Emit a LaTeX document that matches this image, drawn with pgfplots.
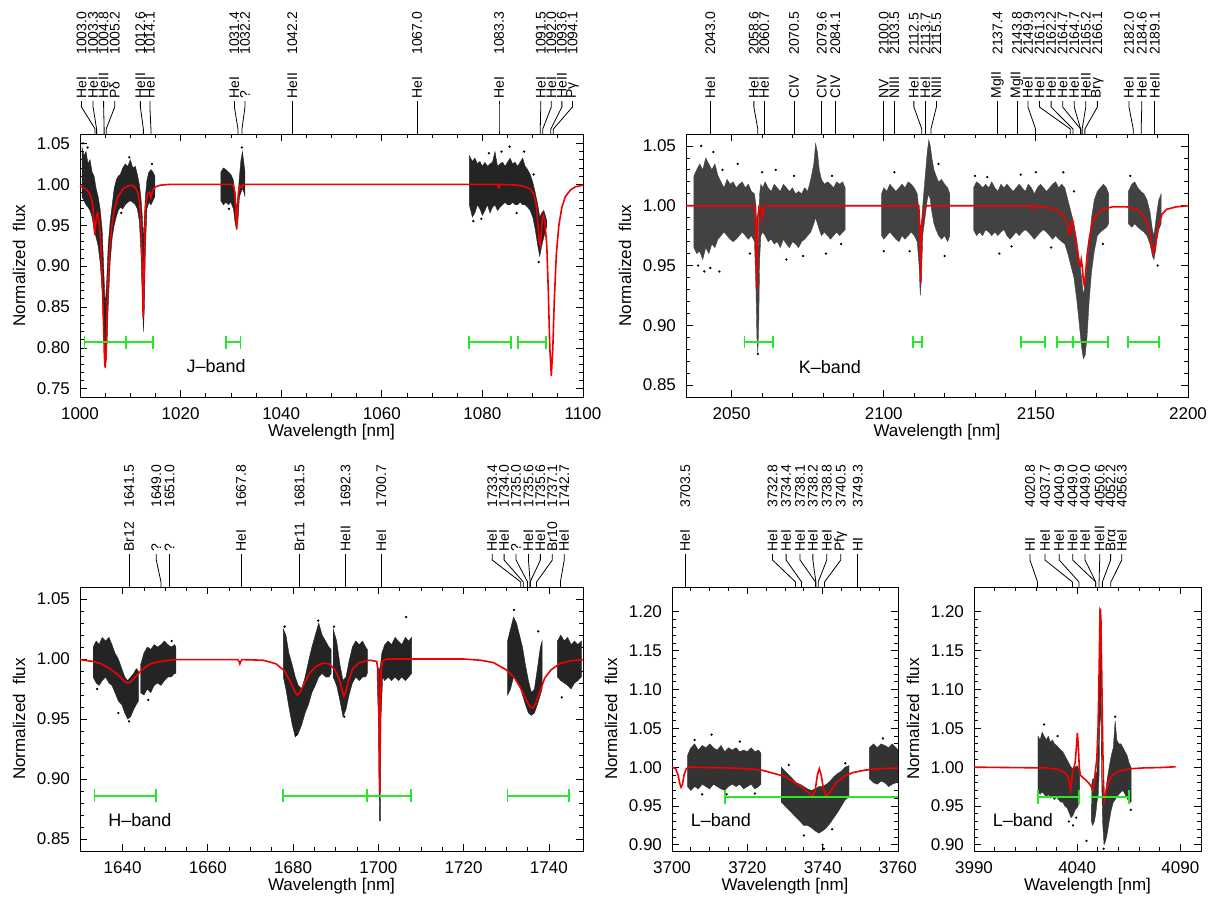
\documentclass[border=0pt]{standalone}
\usepackage{fontspec}
\setmainfont{Liberation Sans}
\usepackage{pgfplots}
\pgfplotsset{compat=1.18}
\usetikzlibrary{calc}

\definecolor{idlred}{RGB}{240,0,0}
\definecolor{idlgreen}{RGB}{40,230,40}
\newlength{\px}\setlength{\px}{0.5pt}
\newcommand{\tickfont}{\fontsize{8.5}{10}\selectfont}
\newcommand{\axfont}{\fontsize{8.5}{10}\selectfont}
\newcommand{\labfont}{\fontsize{7}{8}\selectfont}
\newcommand{\bandfont}{\fontsize{9}{10}\selectfont}

% line identification: wavelength, label position, ion, wavelength text
\newcommand{\lineid}[4]{%
  \draw[line width=0.4pt] (axis cs:#1,\ytop) -- ++(0pt,5\px) -- ($(axis cs:#2,\ytop)+(0pt,27\px)$) -- ++(0pt,6\px);
  \node[rotate=90,anchor=west,inner sep=0pt,font=\labfont] at ($(axis cs:#2,\ytop)+(0pt,35\px)$) {#3};
  \node[rotate=90,anchor=west,inner sep=0pt,font=\labfont] at ($(axis cs:#2,\ytop)+(0pt,79\px)$) {#4};
}
\newcommand{\panellabels}{%
  \node[rotate=90,font=\axfont] at ($(rel axis cs:0,0.5)+(-61\px,0pt)$) {Normalized\ \ flux};
  \node[font=\axfont] at ($(rel axis cs:0.5,0)+(0pt,-35\px)$) {Wavelength [nm]};
}

\pgfplotsset{
  panel/.style={
    scale only axis, clip=false, anchor=south west,
    axis line style={line width=0.45pt},
    tick align=inside,
    major tick length=3.6pt, minor tick length=2pt,
    every tick/.style={black, line width=0.4pt},
    ticklabel style={font=\tickfont},
    /pgf/number format/assume math mode=true,
    yticklabel style={/pgf/number format/fixed, /pgf/number format/fixed zerofill, /pgf/number format/precision=2, xshift=-1.5pt},
    xticklabel style={/pgf/number format/fixed, /pgf/number format/precision=0, /pgf/number format/1000 sep={}, yshift=-2pt},
  },
  cloud/.style={fill=black!86, draw=black!86, line width=0.2pt},
  odd/.style={only marks, mark=*, mark size=0.35pt, black},
  model/.style={idlred, line width=0.8pt},
  fitwin/.style={idlgreen, line width=0.9pt, mark=|, mark size=3.2pt, mark options={solid}},
}

\begin{document}
\begin{tikzpicture}
\path[use as bounding box] (0,0) rectangle (1219\px,-902\px);

% ---------------- J band ----------------
\def\ytop{1.0615}
\begin{axis}[panel, at={(80\px,-397\px)}, width=503\px, height=263\px,
  xmin=1000, xmax=1100, ymin=0.74, ymax=1.0615,
  xtick={1000,1020,1040,1060,1080,1100}, minor x tick num=3,
  ytick={0.75,0.80,0.85,0.90,0.95,1.00,1.05}, minor y tick num=4]
\addplot[cloud] coordinates {(1000.4,1.045)(1000.8,1.035)(1001.2,1.040)(1001.6,1.025)(1002.0,1.030)(1002.4,1.015)(1002.8,1.010)(1003.2,0.995)(1003.6,0.985)(1004.0,0.970)(1004.4,0.945)(1004.7,0.900)(1005.0,0.850)(1005.3,0.880)(1005.6,0.925)(1006.0,0.955)(1006.4,0.975)(1006.8,0.995)(1007.2,1.005)(1007.6,1.010)(1008.0,1.012)(1008.5,1.020)(1009.0,1.025)(1009.5,1.022)(1010.0,1.030)(1010.5,1.020)(1011.0,1.022)(1011.4,1.012)(1011.8,1.000)(1012.1,0.985)(1012.4,0.960)(1012.6,0.930)(1012.8,0.960)(1013.0,0.985)(1013.3,1.005)(1013.7,1.015)(1014.1,1.018)(1014.5,1.015)(1014.9,1.010)
(1014.9,0.985)(1014.5,0.980)(1014.1,0.975)(1013.7,0.978)(1013.3,0.970)(1013.0,0.920)(1012.8,0.850)(1012.6,0.820)(1012.4,0.860)(1012.1,0.920)(1011.8,0.955)(1011.4,0.970)(1011.0,0.975)(1010.5,0.978)(1010.0,0.980)(1009.5,0.978)(1009.0,0.975)(1008.5,0.970)(1008.0,0.972)(1007.6,0.968)(1007.2,0.960)(1006.8,0.950)(1006.4,0.935)(1006.0,0.905)(1005.6,0.850)(1005.3,0.790)(1005.0,0.775)(1004.7,0.820)(1004.4,0.870)(1004.0,0.905)(1003.6,0.925)(1003.2,0.935)(1002.8,0.945)(1002.4,0.960)(1002.0,0.968)(1001.6,0.972)(1001.2,0.975)(1000.8,0.980)(1000.4,0.985)} -- cycle;
\addplot[cloud] coordinates {(1028.0,1.015)(1028.5,1.020)(1029.0,1.018)(1029.5,1.015)(1030.0,1.012)(1030.5,1.005)(1030.8,0.990)(1031.1,0.970)(1031.4,0.985)(1031.7,1.010)(1032.0,1.030)(1032.3,1.040)(1032.6,1.025)(1032.8,1.015)
(1032.8,0.985)(1032.6,0.990)(1032.3,0.995)(1032.0,0.990)(1031.7,0.985)(1031.4,0.955)(1031.1,0.945)(1030.8,0.955)(1030.5,0.970)(1030.0,0.978)(1029.5,0.975)(1029.0,0.978)(1028.5,0.975)(1028.0,0.980)} -- cycle;
\addplot[cloud] coordinates {(1077.4,1.035)(1078.0,1.028)(1078.5,1.032)(1079.0,1.025)(1079.5,1.028)(1080.0,1.022)(1080.5,1.027)(1081.0,1.022)(1081.5,1.025)(1082.0,1.027)(1082.5,1.040)(1083.0,1.022)(1083.5,1.025)(1084.0,1.027)(1084.5,1.022)(1085.0,1.027)(1085.5,1.032)(1086.0,1.025)(1086.5,1.027)(1087.0,1.022)(1087.5,1.027)(1088.0,1.032)(1088.5,1.022)(1089.0,1.018)(1089.5,1.012)(1090.0,1.003)(1090.5,0.990)(1091.0,0.975)(1091.4,0.960)(1091.8,0.965)(1092.2,0.968)(1092.6,0.960)(1092.8,0.955)
(1092.8,0.948)(1092.6,0.945)(1092.2,0.935)(1091.8,0.925)(1091.4,0.912)(1091.0,0.925)(1090.5,0.945)(1090.0,0.960)(1089.5,0.968)(1089.0,0.972)(1088.5,0.975)(1088.0,0.975)(1087.5,0.978)(1087.0,0.975)(1086.5,0.975)(1086.0,0.978)(1085.5,0.975)(1085.0,0.975)(1084.5,0.978)(1084.0,0.975)(1083.5,0.972)(1083.0,0.968)(1082.5,0.975)(1082.0,0.972)(1081.5,0.965)(1081.0,0.975)(1080.5,0.968)(1080.0,0.962)(1079.5,0.970)(1079.0,0.975)(1078.5,0.965)(1078.0,0.960)(1077.4,0.975)} -- cycle;
\addplot[odd] coordinates {(1000.6,1.050)(1001.5,1.045)(1009.8,1.033)(1008.2,0.965)(1014.3,1.025)(1029.6,0.970)(1032.2,1.045)(1078.2,0.955)(1079.8,0.958)(1081.3,1.038)(1083.8,1.040)(1085.4,1.046)(1088.3,1.040)(1086.8,0.965)(1091.2,0.905)(1090.2,1.012)};
\addplot[model] coordinates {(1000,0.998)(1001,0.995)(1001.8,0.990)(1002.3,0.982)(1002.6,0.970)(1002.8,0.950)(1002.95,0.938)(1003.1,0.950)(1003.3,0.962)(1003.5,0.965)(1003.8,0.955)(1004.1,0.930)(1004.4,0.890)(1004.65,0.835)(1004.85,0.790)(1005.0,0.776)(1005.15,0.790)(1005.35,0.835)(1005.6,0.885)(1005.9,0.920)(1006.3,0.948)(1006.8,0.968)(1007.5,0.984)(1008.5,0.994)(1009.5,0.998)(1010.3,0.999)(1011.0,0.996)(1011.5,0.990)(1011.9,0.975)(1012.2,0.945)(1012.4,0.895)(1012.55,0.838)(1012.7,0.880)(1012.9,0.945)(1013.1,0.975)(1013.4,0.988)(1013.8,0.990)(1014.1,0.984)(1014.4,0.992)(1015,0.997)(1016,0.999)(1018,1.000)(1030.4,1.000)(1030.8,0.990)(1031.0,0.965)(1031.15,0.945)(1031.3,0.965)(1031.5,0.990)(1031.8,0.998)(1032.2,0.996)(1032.5,1.000)(1083.0,1.000)(1083.3,0.996)(1083.6,1.000)(1087,0.999)(1088.5,0.997)(1089.5,0.994)(1090.2,0.988)(1090.7,0.975)(1091.0,0.955)(1091.3,0.930)(1091.5,0.926)(1091.7,0.940)(1091.9,0.958)(1092.1,0.962)(1092.4,0.955)(1092.8,0.925)(1093.1,0.870)(1093.4,0.800)(1093.7,0.766)(1094.0,0.800)(1094.3,0.860)(1094.7,0.915)(1095.2,0.950)(1095.8,0.972)(1096.5,0.985)(1097.5,0.993)(1098.5,0.997)(1100,0.999)};
\addplot[fitwin] coordinates {(1000.9,0.807)(1009.1,0.807)(1014.5,0.807)};
\addplot[fitwin] coordinates {(1029.1,0.807)(1031.9,0.807)};
\addplot[fitwin] coordinates {(1077.4,0.807)(1085.7,0.807)};
\addplot[fitwin] coordinates {(1087.0,0.807)(1092.6,0.807)};
\node[anchor=west,font=\bandfont] at (axis cs:1019.8,0.778) {J–band};
\panellabels
\lineid{1003.0}{1000.3}{HeI}{1003.0}
\lineid{1003.3}{1002.6}{HeI}{1003.3}
\lineid{1004.8}{1004.7}{HeII}{1004.8}
\lineid{1005.2}{1006.9}{Pδ}{1005.2}
\lineid{1012.6}{1012.0}{HeII}{1012.6}
\lineid{1014.1}{1013.9}{HeI}{1014.1}
\lineid{1031.4}{1030.7}{HeI}{1031.4}
\lineid{1032.2}{1032.8}{?}{1032.2}
\lineid{1042.2}{1042.2}{HeII}{1042.2}
\lineid{1067.0}{1067.0}{HeI}{1067.0}
\lineid{1083.3}{1083.3}{HeI}{1083.3}
\lineid{1091.5}{1091.6}{HeI}{1091.5}
\lineid{1092.0}{1093.7}{HeI}{1092.0}
\lineid{1093.6}{1095.8}{HeII}{1093.6}
\lineid{1094.1}{1097.9}{Pγ}{1094.1}
\end{axis}

% ---------------- K band ----------------
\begin{axis}[panel, at={(686\px,-397\px)}, width=502\px, height=263\px,
  xmin=2035, xmax=2200, ymin=0.84, ymax=1.06,
  xtick={2050,2100,2150,2200}, minor x tick num=4,
  ytick={0.85,0.90,0.95,1.00,1.05}, minor y tick num=4,
  cloud/.style={fill=black!74, draw=black!74, line width=0.2pt}]
\def\ytop{1.06}
\addplot[cloud] coordinates {(2037.6,1.025)(2038.5,1.030)(2039.5,1.035)(2040.5,1.030)(2041.5,1.040)(2042.5,1.035)(2043.5,1.030)(2044.5,1.035)(2045.5,1.025)(2046.5,1.020)(2047.5,1.015)(2048.5,1.022)(2049.5,1.018)(2050.5,1.020)(2051.5,1.015)(2052.5,1.018)(2053.5,1.020)(2054.5,1.015)(2055.5,1.018)(2056.5,1.012)(2057.5,1.010)(2058.0,1.000)(2058.3,0.975)(2058.6,0.950)(2058.9,0.985)(2059.2,1.010)(2059.6,1.018)(2060.2,1.015)(2061.0,1.020)(2062.0,1.015)(2063.0,1.012)(2064.0,1.018)(2065.0,1.015)(2066.0,1.012)(2067.0,1.018)(2068.0,1.015)(2069.0,1.012)(2070.0,1.015)(2071.0,1.010)(2072.0,1.012)(2073.0,1.010)(2074.0,1.015)(2075.0,1.012)(2076.0,1.022)(2077.0,1.035)(2077.6,1.052)(2078.2,1.045)(2078.8,1.030)(2079.5,1.022)(2080.5,1.018)(2081.5,1.020)(2082.5,1.018)(2083.5,1.015)(2084.5,1.020)(2085.5,1.018)(2086.5,1.020)(2087.3,1.015)
(2087.3,0.980)(2086.5,0.978)(2085.5,0.975)(2084.5,0.978)(2083.5,0.975)(2082.5,0.972)(2081.5,0.975)(2080.5,0.978)(2079.5,0.975)(2078.8,0.980)(2078.2,0.985)(2077.6,0.990)(2077.0,0.985)(2076.0,0.978)(2075.0,0.975)(2074.0,0.972)(2073.0,0.970)(2072.0,0.965)(2071.0,0.968)(2070.0,0.970)(2069.0,0.965)(2068.0,0.968)(2067.0,0.972)(2066.0,0.965)(2065.0,0.970)(2064.0,0.968)(2063.0,0.972)(2062.0,0.970)(2061.0,0.975)(2060.2,0.978)(2059.6,0.975)(2059.2,0.955)(2058.9,0.900)(2058.6,0.877)(2058.3,0.890)(2058.0,0.930)(2057.5,0.970)(2056.5,0.975)(2055.5,0.972)(2054.5,0.975)(2053.5,0.978)(2052.5,0.975)(2051.5,0.972)(2050.5,0.970)(2049.5,0.972)(2048.5,0.975)(2047.5,0.978)(2046.5,0.975)(2045.5,0.972)(2044.5,0.965)(2043.5,0.968)(2042.5,0.960)(2041.5,0.965)(2040.5,0.955)(2039.5,0.962)(2038.5,0.960)(2037.6,0.965)} -- cycle;
\addplot[cloud] coordinates {(2099.3,1.010)(2100.0,1.015)(2101.0,1.012)(2102.0,1.018)(2103.0,1.015)(2104.0,1.012)(2105.0,1.015)(2106.0,1.018)(2107.0,1.015)(2108.0,1.020)(2109.0,1.018)(2110.0,1.015)(2111.0,1.010)(2111.6,0.995)(2112.0,0.960)(2112.4,0.985)(2112.8,1.000)(2113.3,1.015)(2113.8,1.030)(2114.3,1.045)(2114.8,1.055)(2115.3,1.050)(2115.8,1.040)(2116.5,1.030)(2117.2,1.025)(2118.0,1.020)(2119.0,1.022)(2120.0,1.018)(2121.0,1.015)(2121.7,1.010)
(2121.7,0.975)(2121.0,0.970)(2120.0,0.975)(2119.0,0.972)(2118.0,0.975)(2117.2,0.980)(2116.5,0.985)(2115.8,0.995)(2115.3,1.005)(2114.8,1.010)(2114.3,1.005)(2113.8,0.995)(2113.3,0.985)(2112.8,0.975)(2112.4,0.940)(2112.0,0.925)(2111.6,0.950)(2111.0,0.970)(2110.0,0.975)(2109.0,0.978)(2108.0,0.975)(2107.0,0.972)(2106.0,0.975)(2105.0,0.970)(2104.0,0.972)(2103.0,0.975)(2102.0,0.978)(2101.0,0.975)(2100.0,0.972)(2099.3,0.975)} -- cycle;
\addplot[cloud] coordinates {(2129.5,1.015)(2130.5,1.020)(2131.5,1.018)(2132.5,1.015)(2133.5,1.018)(2134.5,1.015)(2135.5,1.020)(2136.5,1.015)(2137.5,1.012)(2138.5,1.018)(2139.5,1.015)(2140.5,1.018)(2141.5,1.015)(2142.5,1.012)(2143.5,1.015)(2144.5,1.018)(2145.5,1.015)(2146.5,1.012)(2147.5,1.018)(2148.5,1.015)(2149.5,1.010)(2150.5,1.015)(2151.5,1.018)(2152.5,1.015)(2153.5,1.012)(2154.5,1.015)(2155.5,1.018)(2156.5,1.020)(2157.5,1.015)(2158.5,1.018)(2159.5,1.015)(2160.5,1.005)(2161.5,0.995)(2162.5,0.985)(2163.5,0.970)(2164.3,0.955)(2165.0,0.940)(2165.6,0.925)(2166.2,0.935)(2166.8,0.950)(2167.5,0.970)(2168.3,0.990)(2169.2,1.005)(2170.2,1.012)(2171.2,1.015)(2172.2,1.018)(2173.2,1.015)(2173.9,1.010)
(2173.9,0.985)(2173.2,0.982)(2172.2,0.980)(2171.2,0.978)(2170.2,0.975)(2169.2,0.962)(2168.3,0.945)(2167.5,0.920)(2166.8,0.890)(2166.2,0.875)(2165.6,0.872)(2165.0,0.882)(2164.3,0.900)(2163.5,0.920)(2162.5,0.940)(2161.5,0.950)(2160.5,0.960)(2159.5,0.968)(2158.5,0.970)(2157.5,0.972)(2156.5,0.975)(2155.5,0.972)(2154.5,0.975)(2153.5,0.978)(2152.5,0.980)(2151.5,0.978)(2150.5,0.975)(2149.5,0.972)(2148.5,0.975)(2147.5,0.978)(2146.5,0.980)(2145.5,0.978)(2144.5,0.975)(2143.5,0.978)(2142.5,0.975)(2141.5,0.972)(2140.5,0.975)(2139.5,0.980)(2138.5,0.978)(2137.5,0.975)(2136.5,0.978)(2135.5,0.975)(2134.5,0.978)(2133.5,0.980)(2132.5,0.975)(2131.5,0.978)(2130.5,0.975)(2129.5,0.980)} -- cycle;
\addplot[cloud] coordinates {(2180.4,1.012)(2181.5,1.018)(2182.5,1.020)(2183.5,1.015)(2184.5,1.012)(2185.5,1.010)(2186.5,1.005)(2187.5,0.995)(2188.3,0.980)(2188.8,0.975)(2189.3,0.985)(2189.8,0.995)(2190.4,1.005)(2191.2,1.010)
(2191.2,0.985)(2190.4,0.980)(2189.8,0.972)(2189.3,0.962)(2188.8,0.955)(2188.3,0.958)(2187.5,0.968)(2186.5,0.975)(2185.5,0.978)(2184.5,0.980)(2183.5,0.982)(2182.5,0.985)(2181.5,0.982)(2180.4,0.985)} -- cycle;
\addplot[odd] coordinates {(2040.0,1.050)(2041.0,0.945)(2044.0,1.045)(2043.0,0.948)(2046.0,0.945)(2052.0,1.035)(2056.0,0.960)(2068.0,0.955)(2081.0,0.960)(2083.0,1.025)(2100.0,0.962)(2118.0,1.035)(2120.0,0.958)(2130.0,1.025)(2138.0,0.960)(2150.0,1.028)(2155.0,0.965)(2159.0,1.028)(2172.0,0.968)(2181.0,1.025)(2190.0,0.950)(2058.6,0.876)(2064.5,1.030)(2073.5,0.958)(2103.5,1.028)(2145.0,1.026)(2162.5,1.012)(2039.0,0.950)(2047.0,1.030)(2060.0,1.028)(2070.5,1.025)(2086.0,0.968)(2108.5,0.962)(2134.0,1.024)(2142.0,0.966)};
\addplot[model] coordinates {(2035,1.000)(2057.5,1.000)(2057.9,0.990)(2058.1,0.960)(2058.25,0.930)(2058.4,0.960)(2058.6,0.990)(2059.0,0.999)(2059.8,0.996)(2060.1,0.987)(2060.4,0.996)(2061,1.000)(2111.5,1.000)(2111.8,0.985)(2112.0,0.960)(2112.15,0.936)(2112.3,0.960)(2112.5,0.985)(2112.8,0.990)(2113.1,0.992)(2113.4,0.998)(2114,1.000)(2148.8,1.000)(2149.3,0.997)(2149.8,1.000)(2152,0.999)(2155,0.998)(2157,0.996)(2159,0.992)(2160.3,0.985)(2160.8,0.977)(2161.2,0.976)(2161.6,0.985)(2162.0,0.988)(2162.4,0.982)(2163.0,0.972)(2163.6,0.962)(2164.2,0.952)(2164.6,0.950)(2164.9,0.955)(2165.2,0.950)(2165.6,0.937)(2165.9,0.934)(2166.3,0.942)(2166.8,0.958)(2167.5,0.972)(2168.5,0.985)(2170,0.993)(2172,0.997)(2175,0.999)(2180,0.999)(2183,0.997)(2185,0.993)(2186.5,0.986)(2187.5,0.977)(2188.2,0.966)(2188.7,0.960)(2189.1,0.963)(2189.6,0.973)(2190.4,0.985)(2191.5,0.993)(2193,0.997)(2196,0.999)(2200,1.000)};
\addplot[fitwin] coordinates {(2054.2,0.886)(2063.6,0.886)};
\addplot[fitwin] coordinates {(2109.6,0.886)(2112.6,0.886)};
\addplot[fitwin] coordinates {(2145.1,0.886)(2152.9,0.886)};
\addplot[fitwin] coordinates {(2157.0,0.886)(2162.2,0.886)(2173.6,0.886)};
\addplot[fitwin] coordinates {(2180.4,0.886)(2190.5,0.886)};
\node[anchor=west,font=\bandfont] at (axis cs:2069.8,0.865) {K–band};
\panellabels
\lineid{2043.0}{2043.0}{HeI}{2043.0}
\lineid{2058.6}{2057.3}{HeI}{2058.6}
\lineid{2060.7}{2060.7}{HeI}{2060.7}
\lineid{2070.5}{2070.5}{CIV}{2070.5}
\lineid{2079.6}{2079.6}{CIV}{2079.6}
\lineid{2084.1}{2084.1}{CIV}{2084.1}
\lineid{2100.0}{2100.0}{NV}{2100.0}
\lineid{2103.5}{2103.5}{NIII}{2103.5}
\lineid{2112.5}{2109.9}{HeI}{2112.5}
\lineid{2113.7}{2113.7}{HeI}{2113.7}
\lineid{2115.5}{2117.3}{NIII}{2115.5}
\lineid{2137.4}{2137.4}{MgII}{2137.4}
\lineid{2143.8}{2143.8}{MgII}{2143.8}
\lineid{2149.9}{2147.4}{HeI}{2149.9}
\lineid{2161.3}{2151.2}{HeI}{2161.3}
\lineid{2162.2}{2155.0}{HeI}{2162.2}
\lineid{2164.7}{2158.8}{HeI}{2164.7}
\lineid{2164.7}{2162.6}{HeI}{2164.7}
\lineid{2165.2}{2166.4}{HeII}{2165.2}
\lineid{2166.1}{2170.2}{Brγ}{2166.1}
\lineid{2182.0}{2180.6}{HeI}{2182.0}
\lineid{2184.6}{2184.8}{HeI}{2184.6}
\lineid{2189.1}{2189.1}{HeII}{2189.1}
\end{axis}

% ---------------- H band ----------------
\begin{axis}[panel, at={(80\px,-851\px)}, width=503\px, height=264\px,
  xmin=1630, xmax=1748, ymin=0.84, ymax=1.06,
  xtick={1640,1660,1680,1700,1720,1740}, minor x tick num=3,
  ytick={0.85,0.90,0.95,1.00,1.05}, minor y tick num=4]
\def\ytop{1.06}
\addplot[cloud] coordinates {(1633.1,1.010)(1633.8,1.015)(1634.5,1.012)(1635.2,1.018)(1636.0,1.015)(1636.8,1.018)(1637.5,1.012)(1638.2,1.005)(1639.0,1.000)(1639.8,0.992)(1640.5,0.985)(1641.2,0.982)(1641.9,0.985)(1642.6,0.988)(1643.2,0.992)(1643.7,0.990)
(1643.7,0.965)(1643.2,0.962)(1642.6,0.958)(1641.9,0.952)(1641.2,0.950)(1640.5,0.955)(1639.8,0.962)(1639.0,0.965)(1638.2,0.972)(1637.5,0.978)(1636.8,0.980)(1636.0,0.985)(1635.2,0.982)(1634.5,0.978)(1633.8,0.980)(1633.1,0.985)} -- cycle;
\addplot[cloud] coordinates {(1644.2,0.995)(1645.0,1.005)(1645.8,1.010)(1646.6,1.008)(1647.4,1.012)(1648.2,1.010)(1649.0,1.012)(1649.8,1.015)(1650.6,1.012)(1651.4,1.010)(1652.2,1.012)(1652.5,1.010)
(1652.5,0.988)(1652.2,0.988)(1651.4,0.985)(1650.6,0.985)(1649.8,0.982)(1649.0,0.978)(1648.2,0.980)(1647.4,0.978)(1646.6,0.972)(1645.8,0.975)(1645.0,0.970)(1644.2,0.972)} -- cycle;
\addplot[cloud] coordinates {(1677.7,1.025)(1678.3,1.020)(1679.0,1.005)(1679.8,0.995)(1680.5,0.985)(1681.2,0.978)(1682.0,0.975)(1682.8,0.985)(1683.6,0.998)(1684.4,1.010)(1685.2,1.020)(1686.0,1.030)(1686.8,1.020)(1687.6,1.015)(1688.4,1.010)(1688.9,1.008)
(1688.9,0.988)(1688.4,0.985)(1687.6,0.985)(1686.8,0.988)(1686.0,0.985)(1685.2,0.978)(1684.4,0.972)(1683.6,0.962)(1682.8,0.955)(1682.0,0.945)(1681.2,0.938)(1680.5,0.935)(1679.8,0.945)(1679.0,0.960)(1678.3,0.975)(1677.7,0.985)} -- cycle;
\addplot[cloud] coordinates {(1689.4,1.025)(1690.2,1.015)(1691.0,0.995)(1691.7,0.982)(1692.4,0.985)(1693.1,0.998)(1693.9,1.010)(1694.7,1.015)(1695.5,1.012)(1696.3,1.015)(1697.0,1.010)(1697.4,1.008)
(1697.4,0.988)(1697.0,0.985)(1696.3,0.985)(1695.5,0.982)(1694.7,0.985)(1693.9,0.980)(1693.1,0.970)(1692.4,0.958)(1691.7,0.952)(1691.0,0.965)(1690.2,0.978)(1689.4,0.985)} -- cycle;
\addplot[cloud] coordinates {(1699.7,0.995)(1700.2,0.990)(1700.5,0.995)(1700.8,1.005)(1701.5,1.012)(1702.3,1.015)(1703.1,1.012)(1703.9,1.018)(1704.7,1.015)(1705.5,1.012)(1706.3,1.018)(1707.1,1.015)(1707.8,1.018)
(1707.8,0.988)(1707.1,0.985)(1706.3,0.982)(1705.5,0.985)(1704.7,0.982)(1703.9,0.985)(1703.1,0.982)(1702.3,0.985)(1701.5,0.982)(1701.0,0.985)(1700.6,0.950)(1700.45,0.865)(1700.25,0.865)(1700.0,0.950)(1699.7,0.985)} -- cycle;
\addplot[cloud] coordinates {(1730.3,1.015)(1731.0,1.025)(1731.7,1.035)(1732.4,1.030)(1733.1,1.020)(1733.8,1.010)(1734.5,0.995)(1735.2,0.982)(1735.9,0.972)(1736.6,0.975)(1737.3,0.992)(1738.0,1.010)(1738.4,1.015)
(1738.4,0.975)(1738.0,0.970)(1737.3,0.962)(1736.6,0.955)(1735.9,0.953)(1735.2,0.955)(1734.5,0.962)(1733.8,0.970)(1733.1,0.978)(1732.4,0.982)(1731.7,0.985)(1731.0,0.975)(1730.3,0.970)} -- cycle;
\addplot[cloud] coordinates {(1742.0,1.015)(1742.8,1.020)(1743.6,1.015)(1744.4,1.018)(1745.2,1.012)(1746.0,1.015)(1746.8,1.012)(1747.6,1.015)
(1747.6,0.985)(1746.8,0.982)(1746.0,0.980)(1745.2,0.975)(1744.4,0.978)(1743.6,0.980)(1742.8,0.982)(1742.0,0.985)} -- cycle;
\addplot[odd] coordinates {(1651.5,1.015)(1639.0,0.955)(1641.5,0.948)(1680.8,0.937)(1685.9,1.032)(1689.6,1.027)(1706.5,1.035)(1731.8,1.041)(1737.5,1.023)(1743.0,0.968)(1692.0,0.952)(1634.0,0.975)(1646.0,0.966)(1678.0,1.027)};
\addplot[model] coordinates {(1630,0.9995)(1633,0.998)(1635,0.996)(1637,0.992)(1638.5,0.988)(1639.5,0.985)(1640.5,0.981)(1641.2,0.980)(1641.9,0.981)(1643,0.985)(1644.5,0.991)(1646.5,0.996)(1649,0.998)(1652,0.9995)(1667,0.9995)(1667.3,0.998)(1667.5,0.996)(1667.7,0.998)(1668,0.9995)(1673,0.999)(1676,0.996)(1678,0.990)(1679.5,0.980)(1680.5,0.972)(1681.0,0.970)(1681.6,0.972)(1682.5,0.979)(1684,0.989)(1685.5,0.994)(1687,0.9965)(1688.5,0.996)(1689.8,0.991)(1690.8,0.983)(1691.5,0.974)(1691.9,0.969)(1692.3,0.972)(1693,0.982)(1694,0.992)(1695.5,0.997)(1698,0.999)(1699.6,0.998)(1699.95,0.990)(1700.15,0.950)(1700.3,0.888)(1700.45,0.950)(1700.65,0.990)(1701,0.9985)(1702,1.000)(1720,1.000)(1724,0.999)(1727,0.997)(1730,0.991)(1732,0.984)(1733.5,0.975)(1734.8,0.965)(1735.6,0.960)(1736.2,0.959)(1736.9,0.963)(1737.8,0.972)(1739,0.984)(1740.5,0.991)(1742.5,0.996)(1745,0.9985)(1748,0.9995)};
\addplot[fitwin] coordinates {(1633.4,0.886)(1647.8,0.886)};
\addplot[fitwin] coordinates {(1677.7,0.886)(1697.3,0.886)(1707.6,0.886)};
\addplot[fitwin] coordinates {(1730.3,0.886)(1744.7,0.886)};
\node[anchor=west,font=\bandfont] at (axis cs:1635,0.866) {H–band};
\panellabels
\lineid{1641.5}{1641.5}{Br12}{1641.5}
\lineid{1649.0}{1647.9}{?}{1649.0}
\lineid{1651.0}{1651.0}{?}{1651.0}
\lineid{1667.8}{1667.8}{HeI}{1667.8}
\lineid{1681.5}{1681.5}{Br11}{1681.5}
\lineid{1692.3}{1692.3}{HeII}{1692.3}
\lineid{1700.7}{1700.7}{HeI}{1700.7}
\lineid{1733.4}{1726.7}{HeI}{1733.4}
\lineid{1734.0}{1729.5}{HeI}{1734.0}
\lineid{1735.0}{1732.3}{?}{1735.0}
\lineid{1735.6}{1735.2}{HeI}{1735.6}
\lineid{1735.6}{1738.0}{HeI}{1735.6}
\lineid{1737.1}{1740.8}{Br10}{1737.1}
\lineid{1742.7}{1743.6}{HeI}{1742.7}
\end{axis}

% ---------------- L band (1) ----------------
\begin{axis}[panel, at={(672\px,-851\px)}, width=226\px, height=264\px,
  xmin=3700, xmax=3760, ymin=0.892, ymax=1.232,
  xtick={3700,3720,3740,3760}, minor x tick num=3,
  ytick={0.90,0.95,1.00,1.05,1.10,1.15,1.20}, minor y tick num=4,
  cloud/.style={fill=black!80, draw=black!80, line width=0.2pt}]
\def\ytop{1.232}
\addplot[cloud] coordinates {(3704.1,1.015)(3705.0,1.025)(3706.0,1.030)(3707.0,1.022)(3708.0,1.028)(3709.0,1.025)(3710.0,1.030)(3711.0,1.025)(3712.0,1.022)(3713.0,1.028)(3714.0,1.020)(3715.0,1.025)(3716.0,1.022)(3717.0,1.025)(3718.0,1.020)(3719.0,1.022)(3720.0,1.020)(3721.0,1.025)(3722.0,1.020)(3723.0,1.022)(3723.6,1.018)
(3723.6,0.978)(3723.0,0.975)(3722.0,0.972)(3721.0,0.978)(3720.0,0.975)(3719.0,0.972)(3718.0,0.978)(3717.0,0.975)(3716.0,0.978)(3715.0,0.975)(3714.0,0.970)(3713.0,0.972)(3712.0,0.975)(3711.0,0.978)(3710.0,0.972)(3709.0,0.975)(3708.0,0.978)(3707.0,0.972)(3706.0,0.975)(3705.0,0.970)(3704.1,0.975)} -- cycle;
\addplot[cloud] coordinates {(3729.0,1.000)(3730.0,0.995)(3731.0,0.990)(3732.0,0.985)(3733.0,0.980)(3734.0,0.978)(3735.0,0.975)(3736.0,0.972)(3737.0,0.970)(3738.0,0.972)(3739.0,0.975)(3740.0,0.975)(3741.0,0.978)(3742.0,0.982)(3743.0,0.988)(3744.0,0.992)(3745.0,0.995)(3746.0,1.000)(3747.0,1.002)
(3747.0,0.962)(3746.0,0.958)(3745.0,0.950)(3744.0,0.942)(3743.0,0.935)(3742.0,0.928)(3741.0,0.922)(3740.0,0.918)(3739.0,0.915)(3738.0,0.918)(3737.0,0.922)(3736.0,0.925)(3735.0,0.925)(3734.0,0.930)(3733.0,0.935)(3732.0,0.940)(3731.0,0.945)(3730.0,0.950)(3729.0,0.955)} -- cycle;
\addplot[cloud] coordinates {(3752.4,1.025)(3753.5,1.030)(3754.5,1.025)(3755.5,1.030)(3756.5,1.028)(3757.5,1.025)(3758.5,1.030)(3759.5,1.025)(3760.0,1.022)
(3760.0,0.982)(3759.5,0.980)(3758.5,0.978)(3757.5,0.975)(3756.5,0.980)(3755.5,0.982)(3754.5,0.978)(3753.5,0.980)(3752.4,0.985)} -- cycle;
\addplot[odd] coordinates {(3710.5,1.042)(3706.0,1.035)(3718.0,1.033)(3735.0,0.912)(3740.0,0.900)(3740.3,0.895)(3746.0,1.005)(3731.0,1.003)(3756.0,1.037)(3708.0,0.965)(3722.0,0.966)(3714.5,0.965)(3742.5,0.920)};
\addplot[model] coordinates {(3700,1.000)(3701,0.998)(3701.6,0.990)(3702.0,0.980)(3702.4,0.974)(3702.8,0.978)(3703.2,0.990)(3703.8,0.998)(3704.5,1.000)(3715,0.999)(3720,0.998)(3724,0.996)(3727,0.992)(3730,0.988)(3732,0.982)(3734,0.976)(3736,0.968)(3737.3,0.963)(3738,0.970)(3738.6,0.990)(3739.1,0.998)(3739.6,0.990)(3740.2,0.972)(3740.9,0.963)(3741.6,0.966)(3742.5,0.972)(3744,0.982)(3746,0.989)(3748,0.993)(3751,0.996)(3755,0.998)(3760,0.999)};
\addplot[idlgreen, line width=0.9pt] coordinates {(3714.1,0.962)(3760,0.962)};
\addplot[idlgreen, line width=0.9pt, only marks, mark=|, mark size=3.5pt] coordinates {(3714.1,0.962)};
\node[anchor=west,font=\bandfont] at (axis cs:3703.1,0.932) {L–band};
\panellabels
\lineid{3703.5}{3703.5}{HeI}{3703.5}
\lineid{3732.8}{3726.7}{HeI}{3732.8}
\lineid{3734.4}{3730.3}{HeI}{3734.4}
\lineid{3738.1}{3734.0}{HeI}{3738.1}
\lineid{3738.2}{3737.4}{HeI}{3738.2}
\lineid{3738.8}{3741.1}{HeI}{3738.8}
\lineid{3740.5}{3744.8}{Pfγ}{3740.5}
\lineid{3749.3}{3749.3}{HI}{3749.3}
\end{axis}

% ---------------- L band (2) ----------------
\begin{axis}[panel, at={(974\px,-851\px)}, width=227\px, height=264\px,
  xmin=3990, xmax=4100, ymin=0.892, ymax=1.232,
  xtick={3990,4040,4090}, minor x tick num=4,
  ytick={0.90,0.95,1.00,1.05,1.10,1.15,1.20}, minor y tick num=4,
  cloud/.style={fill=black!80, draw=black!80, line width=0.2pt}]
\def\ytop{1.232}
\addplot[cloud] coordinates {(4021.0,1.040)(4022.0,1.035)(4023.0,1.045)(4024.0,1.040)(4025.0,1.035)(4026.0,1.040)(4027.0,1.032)(4028.0,1.035)(4029.0,1.030)(4030.0,1.028)(4031.0,1.025)(4032.0,1.022)(4033.0,1.020)(4034.0,1.015)(4035.0,1.010)(4036.0,1.005)(4037.0,1.000)(4038.0,0.998)(4039.0,1.000)(4040.0,1.002)(4041.2,0.995)
(4041.2,0.955)(4040.0,0.948)(4039.0,0.945)(4038.0,0.938)(4037.0,0.935)(4036.0,0.942)(4035.0,0.948)(4034.0,0.950)(4033.0,0.955)(4032.0,0.955)(4031.0,0.958)(4030.0,0.962)(4029.0,0.958)(4028.0,0.962)(4027.0,0.960)(4026.0,0.965)(4025.0,0.962)(4024.0,0.965)(4023.0,0.968)(4022.0,0.965)(4021.0,0.970)} -- cycle;
\addplot[cloud] coordinates {(4046.9,0.975)(4047.5,0.985)(4048.3,0.985)(4049.0,0.990)(4049.6,0.995)(4050.2,1.030)(4050.6,1.100)(4050.9,1.205)(4051.3,1.200)(4051.6,1.100)(4051.9,1.000)(4052.3,0.975)(4053.0,0.960)(4053.8,0.970)(4054.6,0.985)(4055.5,1.000)(4056.5,1.015)(4057.5,1.025)(4058.4,1.060)(4059.2,1.035)(4060.2,1.030)(4061.2,1.030)(4062.2,1.025)(4063.2,1.020)(4064.2,1.015)(4065.2,1.005)(4066.1,1.000)
(4066.1,0.955)(4065.2,0.955)(4064.2,0.960)(4063.2,0.965)(4062.2,0.970)(4061.2,0.968)(4060.2,0.965)(4059.2,0.962)(4058.4,0.958)(4057.5,0.955)(4056.5,0.945)(4055.5,0.930)(4054.6,0.915)(4053.8,0.905)(4053.0,0.900)(4052.3,0.930)(4051.9,0.980)(4051.6,1.050)(4051.3,1.080)(4050.9,1.050)(4050.6,0.990)(4050.2,0.965)(4049.6,0.955)(4049.0,0.940)(4048.3,0.930)(4047.5,0.925)(4046.9,0.930)} -- cycle;
\addplot[odd] coordinates {(4052.8,0.895)(4044.5,0.905)(4058.4,1.065)(4036.0,0.930)(4038.0,0.925)(4024.0,1.055)(4066.0,0.945)(4039.5,0.935)(4030.5,1.040)};
\addplot[model] coordinates {(3990,1.000)(4025,0.999)(4031,0.997)(4034,0.993)(4035.5,0.988)(4036.3,0.980)(4036.8,0.971)(4037.3,0.980)(4037.8,0.995)(4038.4,1.000)(4039.0,1.005)(4039.6,1.025)(4040.1,1.044)(4040.6,1.025)(4041.0,1.000)(4041.5,0.990)(4042.5,0.987)(4044,0.984)(4045.5,0.980)(4046.8,0.975)(4047.6,0.970)(4048.2,0.978)(4048.8,0.995)(4049.5,1.010)(4050.1,1.050)(4050.6,1.120)(4051.0,1.190)(4051.25,1.204)(4051.5,1.190)(4051.9,1.120)(4052.3,1.040)(4052.7,0.985)(4053.1,0.956)(4053.5,0.960)(4054.3,0.972)(4055.5,0.983)(4057,0.989)(4059.4,0.994)(4062,0.996)(4066,0.998)(4072,0.999)(4080,0.9995)(4087.7,1.0005)};
\addplot[fitwin, mark size=3.5pt] coordinates {(4021.0,0.962)(4040.8,0.962)};
\addplot[fitwin, mark size=3.5pt] coordinates {(4046.9,0.962)(4065.1,0.962)};
\node[anchor=west,font=\bandfont] at (axis cs:3995.7,0.932) {L–band};
\panellabels
\lineid{4020.8}{4017.1}{HI}{4020.8}
\lineid{4037.7}{4024.4}{HeI}{4037.7}
\lineid{4040.9}{4031.3}{HeI}{4040.9}
\lineid{4049.0}{4037.8}{HeI}{4049.0}
\lineid{4049.0}{4043.8}{HeI}{4049.0}
\lineid{4050.6}{4050.9}{HeII}{4050.6}
\lineid{4052.2}{4056.2}{Brα}{4052.2}
\lineid{4056.3}{4061.6}{HeI}{4056.3}
\end{axis}
\end{tikzpicture}
\end{document}
